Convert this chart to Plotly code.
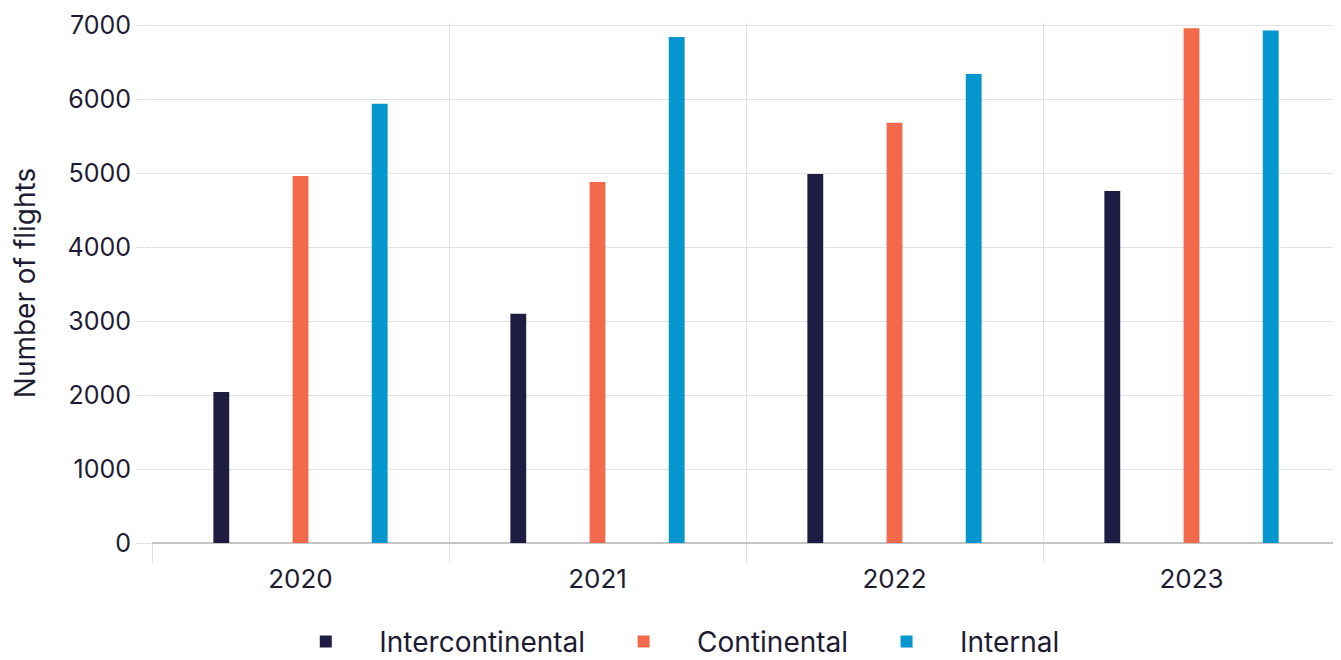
import plotly.graph_objects as go

years = ["2020", "2021", "2022", "2023"]
intercontinental = [2040, 3100, 4990, 4760]
continental = [4960, 4880, 5680, 6960]
internal = [5940, 6840, 6340, 6930]

series_names = ["Intercontinental", "Continental", "Internal"]
colors = ["#1e1c42", "#f26a4b", "#0496cf"]

FONT = "Inter"
TXT = "#1e1c32"

fig = go.Figure()
for name, vals, col in zip(series_names, [intercontinental, continental, internal], colors):
    fig.add_trace(go.Bar(
        x=years, y=vals, name=name,
        marker=dict(color=col, line=dict(width=0)),
    ))

fig.update_layout(
    width=1333, height=652,
    margin=dict(l=144, r=1, t=15, b=117, autoexpand=False),
    paper_bgcolor="white", plot_bgcolor="white",
    barmode="group", bargap=0.2, bargroupgap=0.8,
    font=dict(family=FONT, size=26, color=TXT),
    showlegend=True,
    legend=dict(
        orientation="h", xref="paper", x=0.435, xanchor="center",
        yref="paper", y=-0.19, yanchor="middle",
        font=dict(family=FONT, size=28, color=TXT),
        itemwidth=97, traceorder="normal",
    ),
    xaxis=dict(
        type="category", tickson="boundaries", automargin=False,
        showgrid=True, gridcolor="#e2e2e2", gridwidth=1,
        ticks="outside", ticklen=19, tickcolor="#e2e2e2", tickwidth=1,
        ticklabelstandoff=18,
        showline=False, zeroline=False,
        tickfont=dict(family=FONT, size=26, color=TXT),
    ),
    yaxis=dict(
        range=[0, 7030], tickvals=[0, 1000, 2000, 3000, 4000, 5000, 6000, 7000],
        automargin=False, ticklabeloverflow="allow",
        showgrid=True, gridcolor="#e2e2e2", gridwidth=1,
        ticks="outside", ticklen=15, tickcolor="#e2e2e2",
        zeroline=True, zerolinecolor="#c4c4c4", zerolinewidth=2,
        showline=False,
        tickfont=dict(family=FONT, size=25, color=TXT),
        title=dict(text="Number of flights", font=dict(family=FONT, size=28, color=TXT), standoff=25),
    ),
)

fig.write_html("out.html")
